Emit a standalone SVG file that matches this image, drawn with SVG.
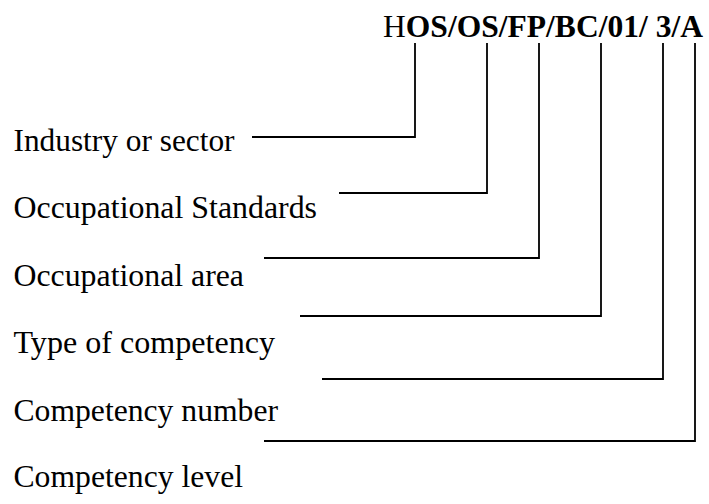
<svg xmlns="http://www.w3.org/2000/svg" width="709" height="504" viewBox="0 0 709 504">
<style>
.lbl{font-family:"Liberation Serif","Times New Roman",serif;font-size:30.5px;fill:#000}
.ttl{font-family:"Liberation Serif","Times New Roman",serif;font-size:30.5px;fill:#000}
.b{font-weight:bold}
.conn{fill:none;stroke:#000;stroke-width:1.8}
</style>
<rect width="709" height="504" fill="#fff"/>
<g id="code">
<text class="ttl" x="383" y="37" textLength="320" lengthAdjust="spacingAndGlyphs"><tspan>H</tspan><tspan class="b">OS/OS/FP/BC/01/ 3/A</tspan></text>
</g>
<g id="industry"><text class="lbl" x="13.5" y="151" textLength="221" lengthAdjust="spacingAndGlyphs">Industry or sector</text></g>
<g id="standards"><text class="lbl" x="13.5" y="218" textLength="303.5" lengthAdjust="spacingAndGlyphs">Occupational Standards</text></g>
<g id="area"><text class="lbl" x="13.5" y="286" textLength="230.5" lengthAdjust="spacingAndGlyphs">Occupational area</text></g>
<g id="type"><text class="lbl" x="13.5" y="353" textLength="261.5" lengthAdjust="spacingAndGlyphs">Type of competency</text></g>
<g id="number"><text class="lbl" x="13.5" y="421" textLength="264.5" lengthAdjust="spacingAndGlyphs">Competency number</text></g>
<g id="level"><text class="lbl" x="13.5" y="487" textLength="229.5" lengthAdjust="spacingAndGlyphs">Competency level</text></g>
<g id="connectors">
<polyline class="conn" points="415,43 415,137 252,137"/>
<polyline class="conn" points="487,43 487,193 339,193"/>
<polyline class="conn" points="539,43 539,258 264,258"/>
<polyline class="conn" points="601,43 601,316 300,316"/>
<polyline class="conn" points="663,43 663,379 322,379"/>
<polyline class="conn" points="695,43 695,441 264,441"/>
</g>
</svg>
